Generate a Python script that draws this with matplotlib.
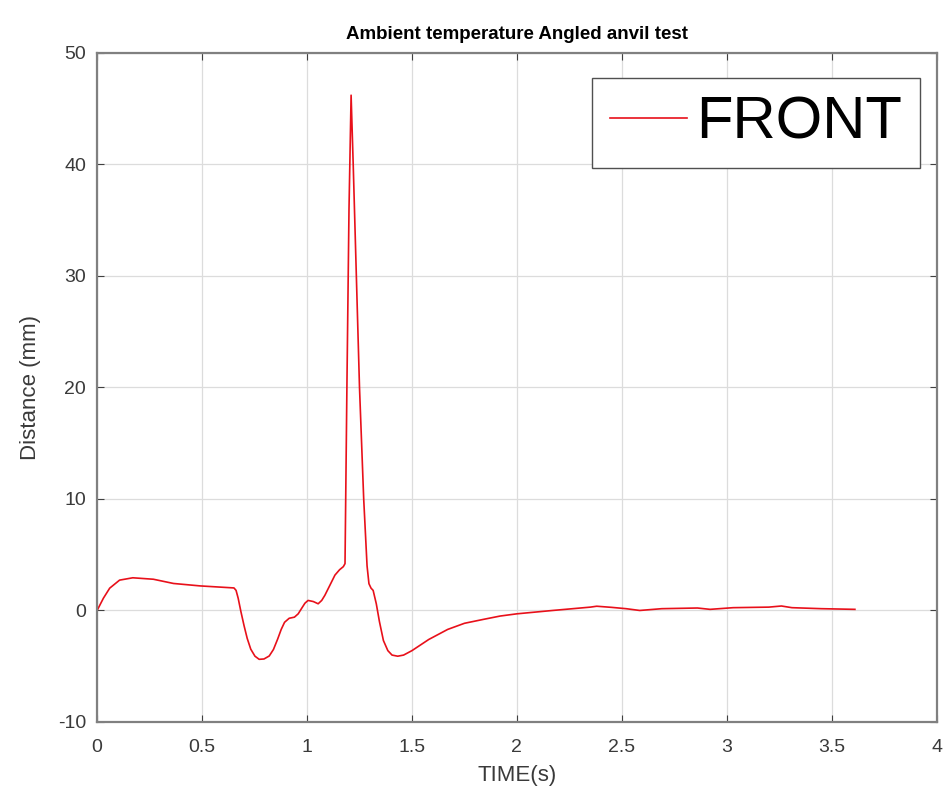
import numpy as np
import matplotlib.pyplot as plt

# FRONT trace
time_s = [0.0, 0.03, 0.06, 0.107, 0.17, 0.268, 0.364, 0.492, 0.652, 0.662,
          0.672, 0.685, 0.7, 0.715, 0.732, 0.752, 0.772, 0.795, 0.82, 0.84,
          0.86, 0.877, 0.893, 0.915, 0.94, 0.958, 0.973, 0.99, 1.005, 1.03,
          1.053, 1.07, 1.085, 1.11, 1.133, 1.155, 1.173, 1.181, 1.19, 1.2,
          1.21, 1.22, 1.25, 1.27, 1.286, 1.295, 1.305, 1.315, 1.33, 1.345,
          1.364, 1.385, 1.405, 1.432, 1.46, 1.5, 1.58, 1.67, 1.75, 1.84,
          1.92, 2.0, 2.17, 2.35, 2.38, 2.45, 2.52, 2.585, 2.69, 2.86, 2.92,
          3.03, 3.2, 3.26, 3.31, 3.45, 3.61]
distance_mm = [0.0, 1.1, 2.0, 2.72, 2.93, 2.8, 2.42, 2.2, 2.02, 1.8,
               1.1, -0.1, -1.36, -2.5, -3.47, -4.1, -4.38, -4.35, -4.08, -3.5,
               -2.57, -1.7, -1.06, -0.7, -0.6, -0.3, 0.15, 0.65, 0.9, 0.8,
               0.6, 0.9, 1.36, 2.3, 3.17, 3.65, 3.93, 4.2, 20.0, 36.0,
               46.2, 40.0, 20.0, 10.0, 4.0, 2.4, 2.0, 1.8, 0.6, -1.0,
               -2.7, -3.6, -4.0, -4.1, -4.0, -3.6, -2.6, -1.7, -1.15, -0.8,
               -0.5, -0.3, 0.0, 0.3, 0.38, 0.28, 0.16, 0.0, 0.16, 0.22, 0.1,
               0.25, 0.3, 0.4, 0.25, 0.16, 0.1]

xticks = [0, 0.5, 1, 1.5, 2, 2.5, 3, 3.5, 4]
xticklabels = ['0', '0.5', '1', '1.5', '2', '2.5', '3', '3.5', '4']
yticks = [-10, 0, 10, 20, 30, 40, 50]

plt.rcParams['font.family'] = ['Liberation Sans', 'DejaVu Sans']
plt.rcParams['axes.unicode_minus'] = False

fig = plt.figure(figsize=(9.52, 8), dpi=100)
ax = fig.add_axes([0.102, 0.0975, 0.882, 0.8365])

ax.plot(time_s, distance_mm, color='#e8101a', linewidth=1.2, label='FRONT')

ax.set_xlim(0, 4)
ax.set_ylim(-10, 50)
ax.set_xticks(xticks)
ax.set_xticklabels(xticklabels)
ax.set_yticks(yticks)
ax.tick_params(direction='in', top=True, right=True, labelsize=14, length=5,
               color='#404040', labelcolor='#3a3a3a')
ax.tick_params(axis='x', pad=12)
ax.tick_params(axis='y', pad=8)
ax.grid(True, color='#dcdcdc', linewidth=0.9)
for s in ax.spines.values():
    s.set_color('#808080')
    s.set_linewidth(1.6)

ax.set_title('Ambient temperature Angled anvil test', fontsize=13.5,
             fontweight='bold', pad=10)
ax.set_xlabel('TIME(s)', fontsize=16, labelpad=7, color='#3a3a3a')
ax.set_ylabel('Distance (mm)', fontsize=16, labelpad=12, color='#3a3a3a')

leg = ax.legend(loc='upper right', fontsize=43, handlelength=1.3,
                handletextpad=0.15, borderpad=0.3, borderaxespad=0,
                fancybox=False, framealpha=1, edgecolor='#505050',
                bbox_to_anchor=(0.98, 0.963))
leg.get_frame().set_linewidth(1.0)

fig.savefig('out.png', dpi=100)
